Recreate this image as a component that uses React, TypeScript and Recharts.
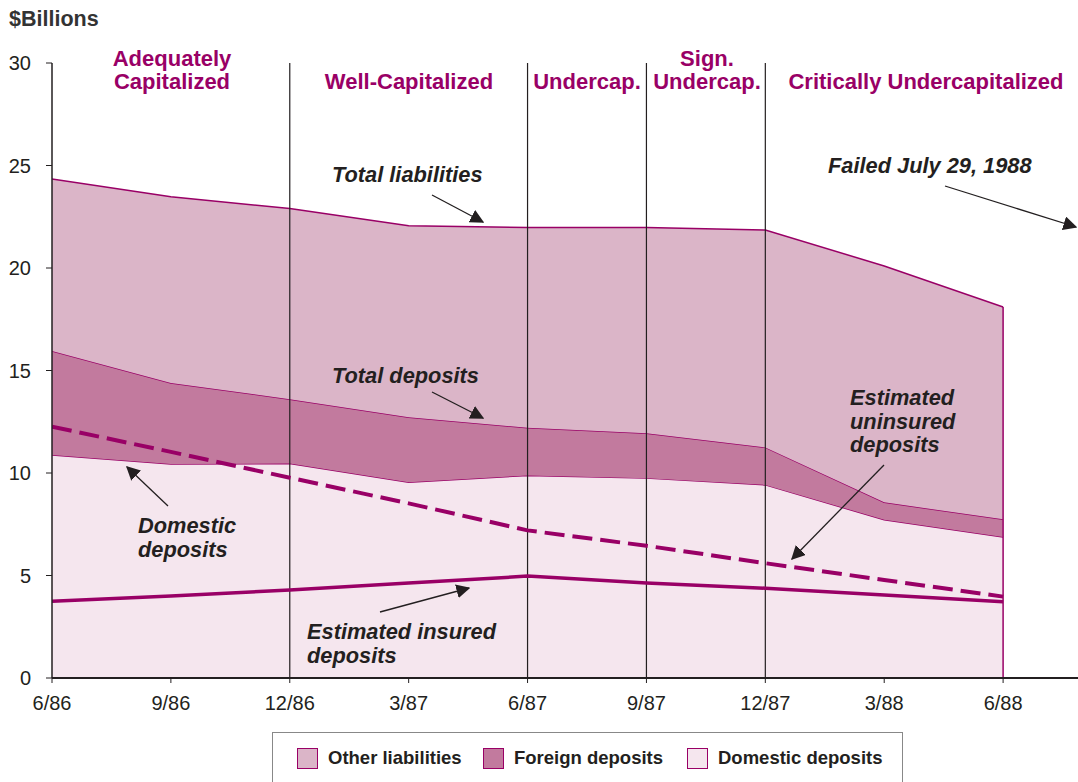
import React from 'react';
import { ComposedChart, Area, Line, XAxis, YAxis, ReferenceLine } from 'recharts';

const categories = ['6/86', '9/86', '12/86', '3/87', '6/87', '9/87', '12/87', '3/88', '6/88'];
const totalLiabilities = [24.34, 23.48, 22.9, 22.06, 21.98, 21.97, 21.85, 20.1, 18.1];
const totalDeposits = [15.95, 14.39, 13.6, 12.72, 12.21, 11.94, 11.25, 8.57, 7.74];
const domesticDeposits = [10.88, 10.44, 10.46, 9.55, 9.88, 9.75, 9.42, 7.72, 6.88];
const uninsuredDeposits = [12.26, 11.03, 9.77, 8.52, 7.2, 6.45, 5.6, 4.78, 3.97];
const insuredDeposits = [3.74, 4.0, 4.29, 4.63, 4.97, 4.63, 4.38, 4.05, 3.72];
const yTicks = [0, 5, 10, 15, 20, 25, 30];

const MAG = '#990066';
const DARK = '#231F20';
const C_OTHER = '#DBB5C8';
const C_FOREIGN = '#C27A9E';
const C_DOM = '#F5E6EE';
const FONT = '"Liberation Sans", Arial, Helvetica, sans-serif';

const data = categories.map((c, i) => ({
  idx: i,
  label: c,
  domestic: domesticDeposits[i],
  foreign: +(totalDeposits[i] - domesticDeposits[i]).toFixed(3),
  other: +(totalLiabilities[i] - totalDeposits[i]).toFixed(3),
  uninsured: uninsuredDeposits[i],
  insured: insuredDeposits[i],
}));

const regionLabels = [
  { lines: ['Adequately', 'Capitalized'], x: 172 },
  { lines: ['Well-Capitalized'], x: 409 },
  { lines: ['Undercap.'], x: 587 },
  { lines: ['Sign.', 'Undercap.'], x: 707 },
  { lines: ['Critically Undercapitalized'], x: 926 },
];

const annotations = [
  { lines: ['Total liabilities'], x: 332, y: 182, arrow: [432, 195, 483, 222] },
  { lines: ['Total deposits'], x: 332, y: 383, arrow: [432, 392, 483, 418] },
  { lines: ['Failed July 29, 1988'], x: 828, y: 173, arrow: [945, 186, 1076, 227] },
  { lines: ['Estimated', 'uninsured', 'deposits'], x: 850, y: 405, arrow: [884, 465, 792, 559] },
  { lines: ['Domestic', 'deposits'], x: 138, y: 533, arrow: [168, 506, 127, 467] },
  { lines: ['Estimated insured', 'deposits'], x: 307, y: 639, arrow: [380, 612, 469, 588] },
];

const legendItems = [
  { name: 'Other liabilities', color: C_OTHER },
  { name: 'Foreign deposits', color: C_FOREIGN },
  { name: 'Domestic deposits', color: C_DOM },
];

const XTick = (props: any) => {
  const { x, y, payload } = props;
  return (
    <text x={x} y={y} dy={14} textAnchor="middle" fontSize={20} fill={DARK} fontFamily={FONT}>
      {categories[payload.value] ?? ''}
    </text>
  );
};

const YTick = (props: any) => {
  const { x, y, payload } = props;
  return (
    <text x={x} y={y} dy={7} textAnchor="end" fontSize={20} fill={DARK} fontFamily={FONT}>
      {payload.value}
    </text>
  );
};

export default function App() {
  return (
    <div style={{ position: 'absolute', left: 0, top: 0, width: 1078, height: 782, overflow: 'hidden', background: '#fff', fontFamily: FONT }}>
      <ComposedChart
        width={1078}
        height={782}
        data={data}
        margin={{ top: 63, right: 0, left: 0, bottom: 74 }}
      >
        <XAxis
          dataKey="idx"
          type="number"
          domain={[0, 8.63]}
          ticks={[0, 1, 2, 3, 4, 5, 6, 7, 8]}
          axisLine={{ stroke: DARK, strokeWidth: 2 }}
          tickLine={{ stroke: DARK, strokeWidth: 1 }}
          tickSize={5}
          tickMargin={13}
          height={30}
          tick={<XTick />}
          allowDataOverflow
        />
        <YAxis
          domain={[0, 30]}
          ticks={yTicks}
          width={52}
          axisLine={{ stroke: DARK, strokeWidth: 1.5 }}
          tickLine={{ stroke: DARK, strokeWidth: 1 }}
          tickSize={6}
          tickMargin={15}
          tick={<YTick />}
          allowDataOverflow
        />
        <Area type="linear" dataKey="domestic" stackId="s" fill={C_DOM} fillOpacity={1} stroke={MAG} strokeWidth={1.5} isAnimationActive={false} dot={false} activeDot={false} />
        <Area type="linear" dataKey="foreign" stackId="s" fill={C_FOREIGN} fillOpacity={1} stroke={MAG} strokeWidth={1.5} isAnimationActive={false} dot={false} activeDot={false} />
        <Area type="linear" dataKey="other" stackId="s" fill={C_OTHER} fillOpacity={1} stroke={MAG} strokeWidth={1.5} isAnimationActive={false} dot={false} activeDot={false} />
        <ReferenceLine x={2} stroke={DARK} strokeWidth={1.2} />
        <ReferenceLine x={4} stroke={DARK} strokeWidth={1.2} />
        <ReferenceLine x={5} stroke={DARK} strokeWidth={1.2} />
        <ReferenceLine x={6} stroke={DARK} strokeWidth={1.2} />
        <ReferenceLine segment={[{ x: 8, y: 0 }, { x: 8, y: totalLiabilities[8] }]} stroke={MAG} strokeWidth={1.5} />
        <Line type="linear" dataKey="uninsured" stroke={MAG} strokeWidth={4} strokeDasharray="20 8" dot={false} activeDot={false} isAnimationActive={false} />
        <Line type="linear" dataKey="insured" stroke={MAG} strokeWidth={3.5} dot={false} activeDot={false} isAnimationActive={false} />
      </ComposedChart>

      <svg width={1078} height={782} style={{ position: 'absolute', left: 0, top: 0, pointerEvents: 'none' }}>
        <defs>
          <marker id="ah" viewBox="0 0 10 10" refX="9" refY="5" markerWidth="14" markerHeight="14" markerUnits="userSpaceOnUse" orient="auto">
            <path d="M0,0 L10,5 L0,10 z" fill={DARK} />
          </marker>
        </defs>
        <text x={9} y={26} fontSize={21.5} fontWeight="bold" fill="#333" fontFamily={FONT}>$Billions</text>
        {regionLabels.map((r, i) => (
          <text key={i} x={r.x} textAnchor="middle" fontSize={22} fontWeight="bold" fill={MAG} fontFamily={FONT}>
            {r.lines.map((l, j) => (
              <tspan key={j} x={r.x} y={89 - (r.lines.length - 1 - j) * 23}>{l}</tspan>
            ))}
          </text>
        ))}
        {annotations.map((a, i) => (
          <g key={i}>
            <text fontSize={21.8} fontWeight="bold" fontStyle="italic" fill={DARK} fontFamily={FONT}>
              {a.lines.map((l, j) => (
                <tspan key={j} x={a.x} y={a.y + j * 23.5}>{l}</tspan>
              ))}
            </text>
            <line x1={a.arrow[0]} y1={a.arrow[1]} x2={a.arrow[2]} y2={a.arrow[3]} stroke={DARK} strokeWidth={1.3} markerEnd="url(#ah)" />
          </g>
        ))}
      </svg>

      <div style={{ position: 'absolute', left: 272, top: 732, width: 631, height: 60, border: '1px solid #888', boxSizing: 'border-box', background: '#fff' }}>
        {legendItems.map((it, i) => (
          <div key={i} style={{ position: 'absolute', left: [24, 210, 414][i], top: 14, display: 'flex', alignItems: 'center' }}>
            <div style={{ width: 21, height: 21, background: it.color, border: `1.5px solid ${MAG}`, boxSizing: 'border-box', marginRight: 10 }} />
            <span style={{ fontSize: 18.5, fontWeight: 'bold', color: DARK, fontFamily: FONT, whiteSpace: 'nowrap' }}>{it.name}</span>
          </div>
        ))}
      </div>
    </div>
  );
}
